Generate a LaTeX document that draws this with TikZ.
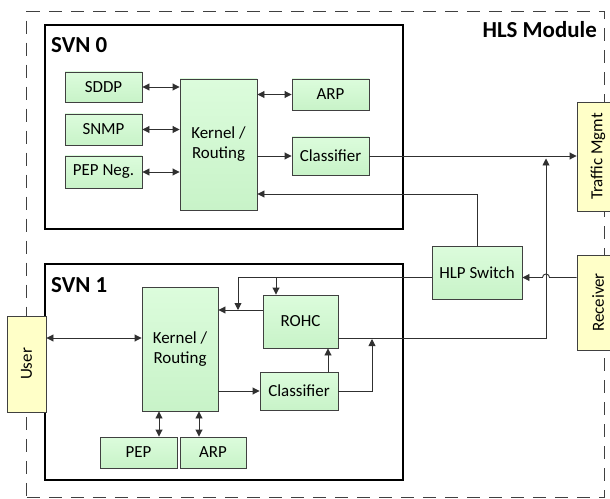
\documentclass[tikz,border=0pt]{standalone}
\usepackage{fontspec}
\setmainfont{Carlito}
\usetikzlibrary{arrows.meta,calc}
\definecolor{gtop}{HTML}{DCFCDC}
\definecolor{gbot}{HTML}{C8F3C8}
\definecolor{yfill}{HTML}{FFFFC8}
\definecolor{bord}{HTML}{404040}
\definecolor{cline}{HTML}{303030}
\begin{document}
\begin{tikzpicture}[x=1bp,y=-1bp,
  >={Triangle[length=7bp,width=7bp]},
  gbox/.style={draw=bord,line width=0.9bp,top color=gtop,bottom color=gbot,inner sep=0pt,
    font=\fontsize{17}{20}\selectfont,align=center},
  ybox/.style={draw=bord,line width=0.9bp,fill=yfill,inner sep=0pt,
    font=\fontsize{17}{20}\selectfont},
  svnbox/.style={draw=black,line width=2bp,inner sep=0pt},
  title/.style={font=\fontsize{23}{26}\selectfont\bfseries,inner sep=0pt},
  conn/.style={draw=cline,line width=0.9bp}]
\useasboundingbox (0,0) rectangle (610,499);
% outer dashed module
\node[draw=black!75,line width=1bp,dash pattern=on 13bp off 9bp,inner sep=0pt,
  minimum width=577bp,minimum height=486.5bp] (hls) at (315.5,254.5) {};
\node[title,anchor=base east] (hlstitle) at (597,38) {HLS Module};
% SVN 0
\node[svnbox,minimum width=358bp,minimum height=204bp] (svn0) at (224,127) {};
\node[title,anchor=base west] (svn0t) at (51,53) {SVN 0};
\node[gbox,minimum width=77bp,minimum height=30bp] (sddp) at (103.5,87) {SDDP};
\node[gbox,minimum width=77bp,minimum height=31bp] (snmp) at (103.5,129.5) {SNMP};
\node[gbox,minimum width=77bp,minimum height=32bp] (pepneg) at (103.5,172) {PEP Neg.};
\node[gbox,minimum width=77bp,minimum height=131bp] (kern0) at (218.5,144.5) {Kernel /\\Routing};
\node[gbox,minimum width=77bp,minimum height=31bp] (arp0) at (330.5,94.5) {ARP};
\node[gbox,minimum width=77bp,minimum height=38bp] (cls0) at (330.5,156) {Classifier};
% SVN 1
\node[svnbox,minimum width=358bp,minimum height=216bp] (svn1) at (224,372) {};
\node[title,anchor=base west] (svn1t) at (51,292) {SVN 1};
\node[gbox,minimum width=76bp,minimum height=124bp] (kern1) at (180,349) {Kernel /\\Routing};
\node[gbox,minimum width=75bp,minimum height=53bp] (rohc) at (300.5,321.5) {ROHC};
\node[gbox,minimum width=78bp,minimum height=38bp] (cls1) at (299,391) {Classifier};
\node[gbox,minimum width=77bp,minimum height=31bp] (pep1) at (138.5,452.5) {PEP};
\node[gbox,minimum width=66bp,minimum height=31bp] (arp1) at (213,452.5) {ARP};
% outside
\node[gbox,minimum width=90bp,minimum height=53bp] (hlp) at (477,272.5) {HLP Switch};
\node[ybox,minimum width=42bp,minimum height=109bp] (traffic) at (598,156.5) {\rotatebox{90}{Traffic Mgmt}};
\node[ybox,minimum width=42bp,minimum height=95bp] (receiver) at (598,302.5) {\rotatebox{90}{Receiver}};
\node[ybox,minimum width=39bp,minimum height=96bp] (user) at (26.5,364) {\rotatebox{90}{User}};
% helper coordinates
\coordinate (y194) at (0,194);
\coordinate (yrx) at (0,277.5);
\coordinate (hop) at (546,277.5);
\coordinate (j1) at (238,310);
\coordinate (b1) at (276,277.5);
\coordinate (y338) at (0,338);
\coordinate (x328) at (328,0);
\coordinate (c372) at (372,339);
\coordinate (up) at (546,158.5);
\coordinate (x159) at (159,0);
\coordinate (x199) at (199,0);
% SVN 0 connectors
\draw[conn,<->] (sddp.east) -- (sddp.east -| kern0.west);
\draw[conn,<->] (snmp.east) -- (snmp.east -| kern0.west);
\draw[conn,<->] (pepneg.east) -- (pepneg.east -| kern0.west);
\draw[conn,<->] (arp0.west -| kern0.east) -- (arp0.west);
\draw[conn,->] (cls0.west -| kern0.east) -- (cls0.west);
\draw[conn,->] (cls0.east) -- (cls0.east -| traffic.west);
\draw[conn,->] (hlp.north) |- (kern0.east |- y194);
% receiver to HLP switch, with hop
\draw[conn,->] (receiver.west |- yrx) -- ([xshift=3.5bp]hop) arc[start angle=0,end angle=-180,radius=3.5] -- (hlp.east |- yrx);
% HLP switch into SVN 1
\draw[conn,->] (hlp.west |- yrx) -| (j1);
\draw[conn,->] (b1) -- (b1 |- rohc.north);
\draw[conn,->] (rohc.west |- j1) -- (kern1.east |- j1);
% SVN 1 connectors
\draw[conn,<->] (user.east |- y338) -- (kern1.west |- y338);
\draw[conn,->] (kern1.east |- cls1.west) -- (cls1.west);
\draw[conn,->] (x328 |- cls1.north) -- (x328 |- rohc.south);
\draw[conn,->] (cls1.east) -| (c372);
\draw[conn,->] (rohc.east |- y338) -| (up);
\draw[conn,<->] (x159 |- kern1.south) -- (x159 |- pep1.north);
\draw[conn,<->] (x199 |- kern1.south) -- (x199 |- arp1.north);
\end{tikzpicture}
\end{document}
